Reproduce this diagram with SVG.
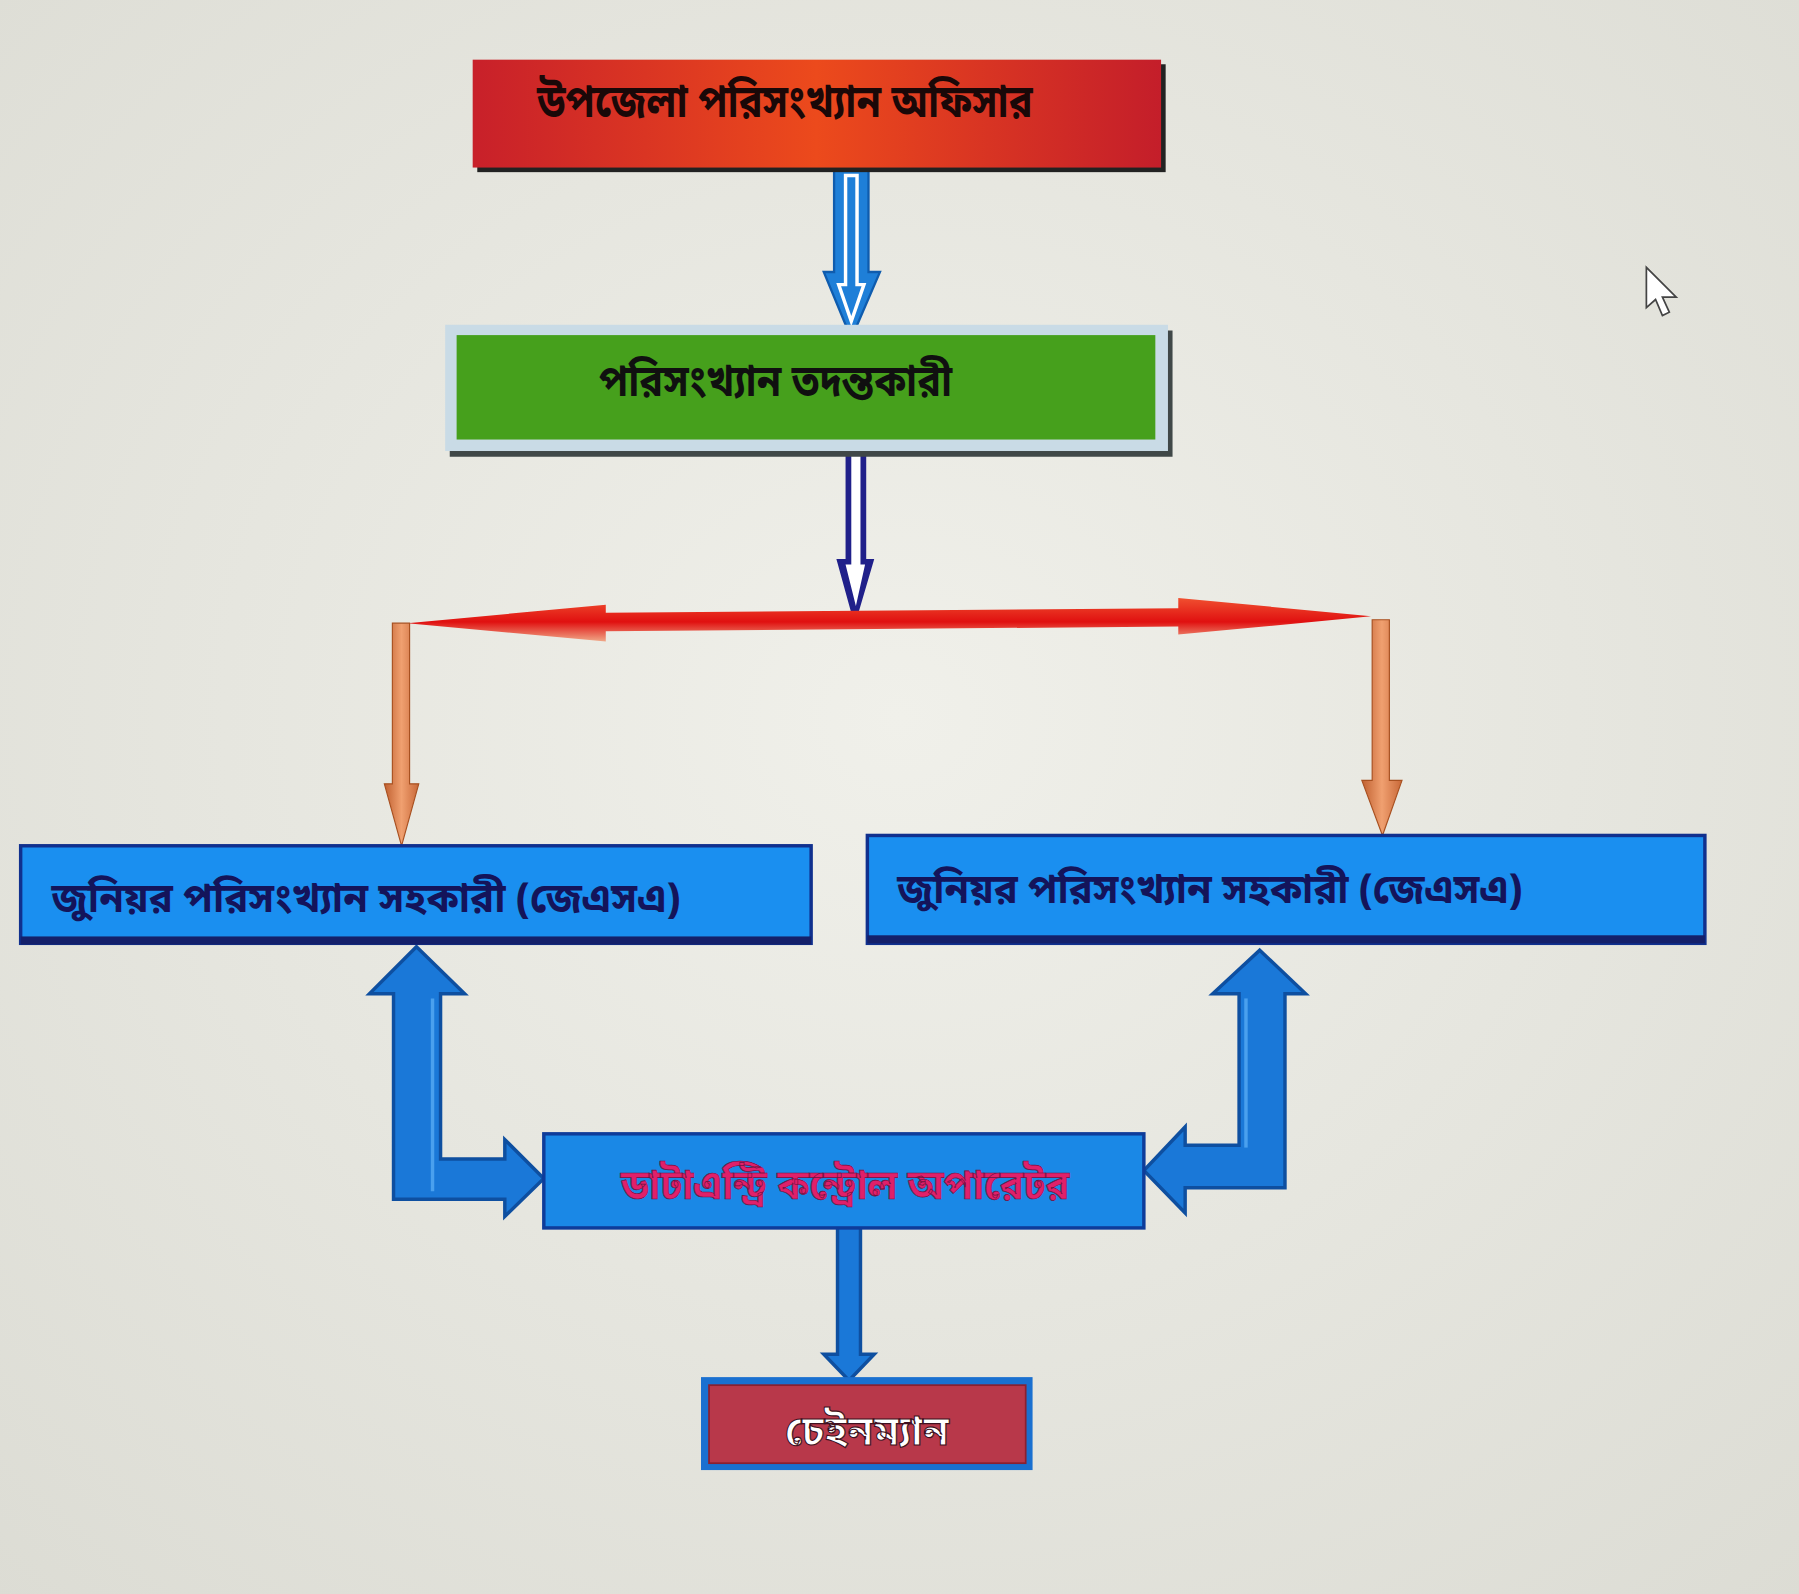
<svg xmlns="http://www.w3.org/2000/svg" width="1799" height="1594" viewBox="0 0 1799 1594">
<defs>
<radialGradient id="bg" cx="0.5" cy="0.45" r="0.75">
<stop offset="0" stop-color="#f0f0ea"/>
<stop offset="1" stop-color="#dcdcd4"/>
</radialGradient>
<linearGradient id="redg" x1="0" y1="0" x2="1" y2="0">
<stop offset="0" stop-color="#c8202a"/>
<stop offset="0.5" stop-color="#ec4a1c"/>
<stop offset="1" stop-color="#c41e2a"/>
</linearGradient>
<linearGradient id="rarrow" x1="0" y1="0" x2="0" y2="1">
<stop offset="0" stop-color="#f05030"/>
<stop offset="0.55" stop-color="#e01010"/>
<stop offset="1" stop-color="#f0a888"/>
</linearGradient>
<linearGradient id="oarrow" x1="0" y1="0" x2="1" y2="0">
<stop offset="0" stop-color="#c06030"/>
<stop offset="0.5" stop-color="#f0a070"/>
<stop offset="1" stop-color="#c86838"/>
</linearGradient>
<style>
.bn{font-family:"Noto Sans Bengali","Noto Serif Bengali","Lohit Bengali","Noto Sans",sans-serif;font-weight:bold}
.box-blue{fill:#1a8ff0;stroke:#10308e;stroke-width:3}
.shadow{fill:#14206a}
.thick{fill:#1a78d8;stroke:#0e4fa0;stroke-width:3;stroke-linejoin:miter}
</style>
</defs>
<rect width="1799" height="1594" fill="url(#bg)"/>
<g transform="scale(1.1473 1.1476)">
<g id="connectors">
<g id="arrow-officer-investigator">
<path d="M727 148 H757 V237 H767 L742 295 L718 237 H727 Z" fill="#1e7fd8" stroke="#0f5cae" stroke-width="2"/>
<path d="M737 153 H747 V248 H753 L742 280 L731 248 H737 Z" fill="none" stroke="#ffffff" stroke-width="3"/>
</g>
<g id="arrow-investigator-split">
<path d="M737 385 H755 V487 H762 L745 545 L729 487 H737 Z" fill="#20208a"/>
<path d="M742 390 H750 V492 H754 L746 528 L737 492 H742 Z" fill="#ffffff"/>
</g>
<path id="red-double-arrow" d="M355 543 L528 527 V534 L1027 530 V521 L1195 537 L1027 553 V546 L528 550 V559 Z" fill="url(#rarrow)"/>
<path id="orange-left" d="M342 543 H357 V683 H365 L350 737 L335 683 H342 Z" fill="url(#oarrow)" stroke="#a85020" stroke-width="1"/>
<path id="orange-right" d="M1196 540 H1211 V680 H1222 L1205 728 L1187 680 H1196 Z" fill="url(#oarrow)" stroke="#a85020" stroke-width="1"/>
<path id="arrow-left-L" class="thick" d="M363 825 L405 866 H384 V1010 H440 V993 L474 1027 L440 1060 V1045 H343 V866 H322 Z"/>
<path d="M377 870 V1038" stroke="#4aa0ee" stroke-width="3"/>
<path id="arrow-right-L" class="thick" d="M1098 828 L1138 866 H1120 V1035 H1033 V1057 L997 1020 L1033 982 V998 H1080 V866 H1057 Z"/>
<path d="M1086 870 V1000" stroke="#4aa0ee" stroke-width="3"/>
<path id="arrow-dataentry-chainman" class="thick" d="M730 1066 H750 V1180 H762 L740 1203 L718 1180 H730 Z" stroke-width="2"/>
</g>
<g id="node-officer">
<rect x="416" y="56" width="600" height="94" fill="#222"/>
<rect x="412" y="52" width="600" height="94" fill="url(#redg)"/>
<text class="bn" x="468" y="102" font-size="40" fill="#1a0808" textLength="432" lengthAdjust="spacingAndGlyphs">উপজেলা পরিসংখ্যান  অফিসার</text>
</g>
<g id="node-investigator">
<rect x="392" y="288" width="630" height="110" fill="#404848"/>
<rect x="388" y="283" width="630" height="110" fill="#c9dbe6"/>
<rect x="398" y="292" width="609" height="91" fill="#46a01c"/>
<text class="bn" x="522" y="345" font-size="38" fill="#101010" textLength="308" lengthAdjust="spacingAndGlyphs">পরিসংখ্যান তদন্তকারী</text>
</g>
<g id="node-jsa-left">
<rect class="box-blue" x="18" y="737" width="689" height="85"/>
<rect class="shadow" x="18" y="816" width="689" height="7"/>
<text class="bn" x="45" y="795" font-size="36" fill="#14145a" textLength="548" lengthAdjust="spacingAndGlyphs">জুনিয়র পরিসংখ্যান সহকারী (জেএসএ)</text>
</g>
<g id="node-jsa-right">
<rect class="box-blue" x="756" y="728" width="730" height="94"/>
<rect class="shadow" x="756" y="815" width="730" height="7"/>
<text class="bn" x="782" y="787" font-size="36" fill="#14145a" textLength="545" lengthAdjust="spacingAndGlyphs">জুনিয়র পরিসংখ্যান সহকারী (জেএসএ)</text>
</g>
<g id="node-dataentry">
<rect x="474" y="988" width="523" height="82" fill="#1a88e6" stroke="#0e3c9a" stroke-width="3"/>
<text class="bn" x="541" y="1045" font-size="36" fill="#e0206a" stroke="#701040" stroke-width="0.6" textLength="391" lengthAdjust="spacingAndGlyphs">ডাটাএন্ট্রি কন্ট্রোল অপারেটর</text>
</g>
<g id="node-chainman">
<rect x="611" y="1200" width="289" height="81" fill="#1a70d0"/>
<rect x="618" y="1207" width="276" height="68" fill="#b8384a" stroke="#8a2030" stroke-width="1.5"/>
<text class="bn" x="684" y="1259" font-size="36" fill="#ffffff" stroke="#401020" stroke-width="1" textLength="143" lengthAdjust="spacingAndGlyphs">চেইনম্যান</text>
</g>
<path id="cursor" d="M1435 233 V268 L1443 261 L1449 275 L1455 272 L1449 259 H1461 Z" fill="#ffffff" stroke="#444" stroke-width="1.5"/>
</g>
</svg>
